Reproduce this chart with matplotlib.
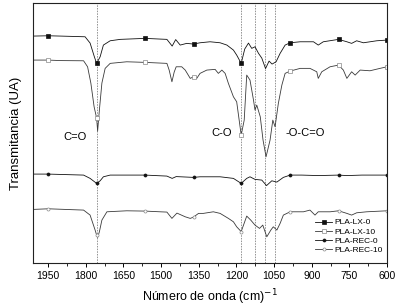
import numpy as np
import matplotlib
matplotlib.use("Agg")
import matplotlib.pyplot as plt
from matplotlib.ticker import MultipleLocator

plt.rcParams['font.family'] = ['Liberation Sans', 'DejaVu Sans']

# ---------------- data ----------------
tick_values = [1950, 1800, 1650, 1500, 1350, 1200, 1050, 900, 750, 600]
marker_wn = [1950, 1757, 1564, 1371, 1181, 986, 793, 600]
band_lines = [1755, 1183, 1125, 1085, 1045]
band_labels = ["C=O", "C-O", "-O-C=O"]
band_label_pos = [(1842, 126), (1257, 130), (927, 130)]
series_names = ["PLA-LX-0", "PLA-LX-10", "PLA-REC-0", "PLA-REC-10"]

lx0_wn = [2008, 1950, 1902, 1803, 1783, 1766, 1757, 1743, 1730, 1703, 1663, 1564,
          1504, 1477, 1456, 1442, 1424, 1398, 1371, 1345, 1305, 1265, 1238, 1212,
          1199, 1181, 1167, 1152, 1139, 1126, 1112, 1099, 1084, 1070, 1058, 1042,
          1026, 1006, 986, 946, 893, 874, 854, 793, 760, 741, 721, 694, 641, 600]
lx0_t = [227, 227.3, 227, 226.3, 220, 206.3, 199.7, 206.3, 218, 222.3, 223.7, 224.7,
         224, 223.7, 217, 223.5, 218, 219.7, 219, 220.3, 221.3, 220.3, 218, 213,
         208, 199.7, 214, 220, 214.7, 216.3, 209.7, 205, 194.5, 202, 199, 201.3,
         209.7, 218, 220.3, 221.3, 221.3, 218, 221.3, 223.7, 221.3, 219.7, 222.3, 220.3, 222.3, 223]

lx10_wn = [2008, 1950, 1902, 1809, 1793, 1780, 1767, 1757, 1753, 1746, 1736, 1723,
           1703, 1637, 1564, 1477, 1468, 1457, 1448, 1440, 1418, 1404, 1384, 1371,
           1358, 1345, 1318, 1285, 1272, 1258, 1245, 1232, 1212, 1199, 1181, 1169,
           1159, 1146, 1132, 1126, 1119, 1105, 1094, 1082, 1066, 1055, 1046, 1033,
           1019, 1006, 986, 946, 907, 880, 874, 860, 827, 793, 774, 760, 741, 727,
           707, 668, 628, 600]
lx10_t = [203, 203, 202.5, 202.3, 196.3, 180, 156.3, 145, 132, 153, 180, 194.7,
          199.7, 201.3, 200.7, 199.7, 193, 181.3, 191, 196.3, 196.3, 193, 184.7, 186.3,
          184.7, 189.7, 193, 193.7, 189.7, 193, 189.7, 179.7, 166.3, 161.3, 128, 143,
          188, 183, 163, 153, 158, 146.3, 123, 106.3, 123, 143, 136.3, 159.7,
          178, 189.7, 192, 194.7, 194.7, 191.3, 184.7, 191.3, 196.3, 198, 193, 184.7, 191.3, 188,
          193, 192.3, 194.7, 196.3]

rec0_wn = [2008, 1950, 1809, 1783, 1757, 1743, 1730, 1703, 1564, 1477, 1456, 1440,
           1371, 1345, 1265, 1212, 1181, 1159, 1146, 1126, 1099, 1080, 1059, 1039,
           1013, 986, 940, 874, 793, 760, 700, 600]
rec0_t = [89, 89, 88, 84.7, 79.7, 82.3, 86.3, 88, 88, 87, 84.7, 86.5,
          85.7, 86.3, 86.3, 84.7, 79.7, 84.7, 86.3, 83.7, 83, 77.5, 82.3, 81,
          85.7, 88, 88, 87.5, 88, 87.5, 88, 88]

rec10_wn = [2008, 1950, 1809, 1783, 1763, 1757, 1753, 1746, 1736, 1716, 1637, 1564,
            1504, 1477, 1457, 1437, 1404, 1384, 1371, 1351, 1332, 1292, 1265, 1232,
            1212, 1199, 1181, 1159, 1143, 1126, 1108, 1095, 1079, 1063, 1053, 1039,
            1026, 1013, 986, 933, 907, 887, 874, 827, 793, 760, 741, 721, 681, 600]
rec10_t = [53.7, 54.3, 53, 48, 33, 28, 25.7, 31.3, 43, 51.3, 52.3, 52,
           51.3, 51, 44.7, 50, 46.3, 44.7, 46, 49.7, 49.7, 51.3, 49.7, 44.7,
           41.3, 36.3, 31.5, 47, 43, 38, 34.7, 38, 26.3, 33, 36.3, 33,
           39.7, 48, 51.3, 51.3, 53, 48, 51.3, 51.3, 52.3, 49.7, 48, 50.3, 51.3, 52.3]

# ---------------- figure ----------------
fig = plt.figure(figsize=(3.99, 3.07), dpi=100)
ax = fig.add_axes([0.083, 0.143, 0.887, 0.847])

def mark_idx(wn):
    wn = np.asarray(wn)
    return [int(np.argmin(np.abs(wn - m))) for m in marker_wn]

styles = [
    dict(color='#111111', marker='s', mfc='#111111', mec='#111111'),
    dict(color='#3a3a3a', marker='s', mfc='white', mec='#888888'),
    dict(color='#111111', marker='o', mfc='#111111', mec='#111111'),
    dict(color='#3a3a3a', marker='o', mfc='white', mec='#888888'),
]
data = [(lx0_wn, lx0_t), (lx10_wn, lx10_t), (rec0_wn, rec0_t), (rec10_wn, rec10_t)]

for (wn, t), st, name in zip(data, styles, series_names):
    ax.plot(wn, t, lw=0.6, color=st['color'], marker=st['marker'], ms=2.2,
            mfc=st['mfc'], mec=st['mec'], mew=0.5, markevery=mark_idx(wn), label=name)

for b in band_lines:
    ax.axvline(b, color='#777777', lw=0.55, ls=(0, (2, 1.5)), zorder=0)

for lab, (bx, by) in zip(band_labels, band_label_pos):
    ax.text(bx, by, lab, fontsize=8, ha='center', va='center')

ax.set_xlim(2010, 600)
ax.set_ylim(0, 260)
ax.set_xticks(tick_values)
ax.xaxis.set_minor_locator(MultipleLocator(75))
ax.tick_params(axis='x', which='major', length=3, width=0.7, labelsize=7.5, pad=3)
ax.tick_params(axis='x', which='minor', length=1.8, width=0.6)
ax.set_yticks([])
for s in ax.spines.values():
    s.set_linewidth(0.8)
    s.set_color('#222222')

ax.set_xlabel("Número de onda (cm)$^{-1}$", fontsize=9, labelpad=4)
ax.set_ylabel("Transmitancia (UA)", fontsize=9.5, labelpad=8)

leg = ax.legend(loc='lower right', bbox_to_anchor=(1.0, 0.02), frameon=False,
                fontsize=6, handlelength=2.0, handletextpad=0.3, labelspacing=0.15,
                borderaxespad=0.1)

fig.savefig("out.png", dpi=100)
